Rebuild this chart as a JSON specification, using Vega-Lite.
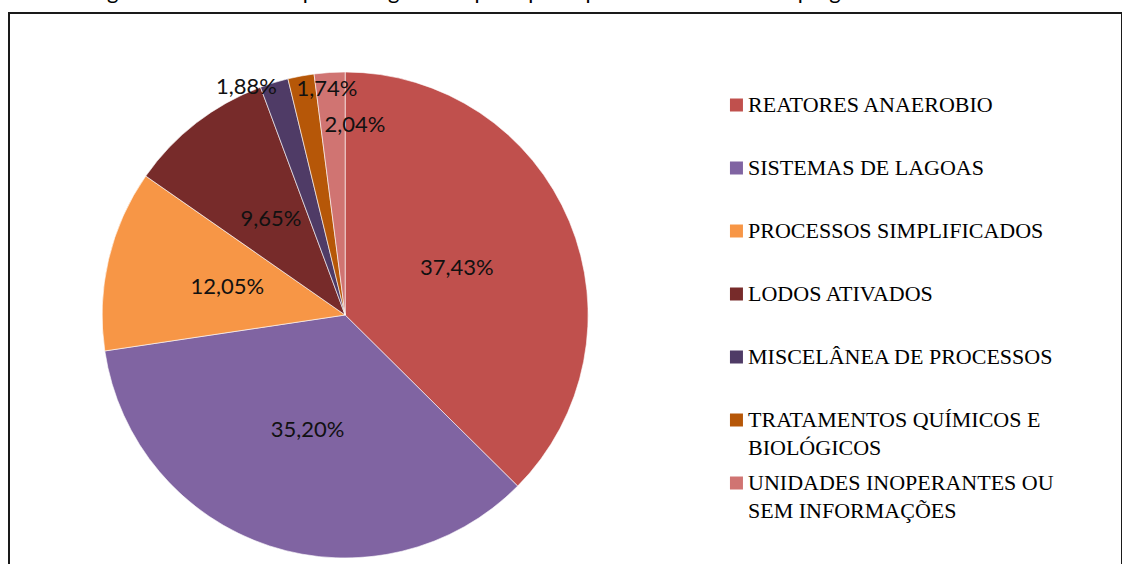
{
  "$schema": "https://vega.github.io/schema/vega-lite/v6.json",
  "width": 1113,
  "height": 604,
  "autosize": {"type": "none"},
  "padding": {"left": 9, "top": 13, "right": 0, "bottom": 0},
  "background": "white",
  "config": {
    "view": {"stroke": "#1a1a1a", "strokeWidth": 2},
    "locale": {"number": {"decimal": ",", "thousands": ".", "grouping": [3], "currency": ["R$", ""]}}
  },
  "title": {
    "text": "Figura 2 – Valores em porcentagem dos principais tipos de tratamento empregados nas ETEs no Brasil.",
    "font": "Lato",
    "fontSize": 22,
    "fontWeight": "normal",
    "color": "#000000",
    "anchor": "middle",
    "frame": "group",
    "baseline": "alphabetic",
    "offset": 0,
    "dy": 8,
    "dx": 15
  },
  "data": {
    "values": [
      {"ordem": 1, "tipo": "REATORES ANAEROBIO", "legenda": "REATORES ANAEROBIO", "valor": 0.3743},
      {"ordem": 2, "tipo": "SISTEMAS DE LAGOAS", "legenda": "SISTEMAS DE LAGOAS", "valor": 0.3520},
      {"ordem": 3, "tipo": "PROCESSOS SIMPLIFICADOS", "legenda": "PROCESSOS SIMPLIFICADOS", "valor": 0.1205},
      {"ordem": 4, "tipo": "LODOS ATIVADOS", "legenda": "LODOS ATIVADOS", "valor": 0.0965},
      {"ordem": 5, "tipo": "MISCELÂNEA DE PROCESSOS", "legenda": "MISCELÂNEA DE PROCESSOS", "valor": 0.0188},
      {"ordem": 6, "tipo": "TRATAMENTOS QUÍMICOS E BIOLÓGICOS", "legenda": "TRATAMENTOS QUÍMICOS E\nBIOLÓGICOS", "valor": 0.0174},
      {"ordem": 7, "tipo": "UNIDADES INOPERANTES OU SEM INFORMAÇÕES", "legenda": "UNIDADES INOPERANTES OU\nSEM INFORMAÇÕES", "valor": 0.0204}
    ]
  },
  "layer": [
    {
      "mark": {"type": "arc", "outerRadius": 243, "x": {"expr": "width * 0.302"}, "stroke": "#ffffff", "strokeWidth": 0.6},
      "encoding": {
        "theta": {"field": "valor", "type": "quantitative", "stack": true},
        "order": {"field": "ordem", "type": "quantitative"},
        "color": {
          "field": "tipo", "type": "nominal", "legend": null,
          "scale": {
            "domain": ["REATORES ANAEROBIO", "SISTEMAS DE LAGOAS", "PROCESSOS SIMPLIFICADOS", "LODOS ATIVADOS", "MISCELÂNEA DE PROCESSOS", "TRATAMENTOS QUÍMICOS E BIOLÓGICOS", "UNIDADES INOPERANTES OU SEM INFORMAÇÕES"],
            "range": ["#C0504D", "#8064A2", "#F79646", "#772B2A", "#4F3B66", "#B65708", "#D07472"]
          }
        }
      }
    },
    {
      "mark": {"type": "text", "radius": 121, "x": {"expr": "width * 0.302"}, "font": "Lato", "fontSize": 22, "color": "#111111", "align": "center", "baseline": "middle"},
      "encoding": {
        "theta": {"field": "valor", "type": "quantitative", "stack": true},
        "order": {"field": "ordem", "type": "quantitative"},
        "text": {"condition": {"test": "datum.valor > 0.05", "field": "valor", "type": "quantitative", "format": ".2%"}, "value": ""}
      }
    },
    {
      "mark": {"type": "text", "radius": 249, "dx": -26, "dy": 10, "x": {"expr": "width * 0.302"}, "font": "Lato", "fontSize": 22, "color": "#111111", "align": "center", "baseline": "middle"},
      "encoding": {
        "theta": {"field": "valor", "type": "quantitative", "stack": true},
        "order": {"field": "ordem", "type": "quantitative"},
        "text": {"condition": {"test": "datum.ordem == 5", "field": "valor", "type": "quantitative", "format": ".2%"}, "value": ""}
      }
    },
    {
      "mark": {"type": "text", "radius": 227, "dx": 23, "dy": -3, "x": {"expr": "width * 0.302"}, "font": "Lato", "fontSize": 22, "color": "#111111", "align": "center", "baseline": "middle"},
      "encoding": {
        "theta": {"field": "valor", "type": "quantitative", "stack": true},
        "order": {"field": "ordem", "type": "quantitative"},
        "text": {"condition": {"test": "datum.ordem == 6", "field": "valor", "type": "quantitative", "format": ".2%"}, "value": ""}
      }
    },
    {
      "mark": {"type": "text", "radius": 190, "dx": 22, "dy": 0, "x": {"expr": "width * 0.302"}, "font": "Lato", "fontSize": 22, "color": "#111111", "align": "center", "baseline": "middle"},
      "encoding": {
        "theta": {"field": "valor", "type": "quantitative", "stack": true},
        "order": {"field": "ordem", "type": "quantitative"},
        "text": {"condition": {"test": "datum.ordem == 7", "field": "valor", "type": "quantitative", "format": ".2%"}, "value": ""}
      }
    },
    {
      "mark": {"type": "point", "shape": "square", "filled": true, "size": 169, "opacity": 1, "x": {"expr": "width * 0.6536"}},
      "encoding": {
        "y": {"field": "tipo", "type": "nominal", "sort": {"field": "ordem"}, "axis": null, "scale": {"type": "point", "padding": 0, "range": [92, 470]}},
        "color": {"field": "tipo", "type": "nominal", "legend": null}
      }
    },
    {
      "mark": {"type": "text", "x": {"expr": "width * 0.664"}, "align": "left", "baseline": "top", "dy": -10, "font": "Liberation Serif", "fontSize": 22, "lineHeight": 28, "lineBreak": "\n", "color": "#000000"},
      "encoding": {
        "y": {"field": "tipo", "type": "nominal", "sort": {"field": "ordem"}, "axis": null, "scale": {"type": "point", "padding": 0, "range": [92, 470]}},
        "text": {"field": "legenda", "type": "nominal"}
      }
    }
  ]
}
